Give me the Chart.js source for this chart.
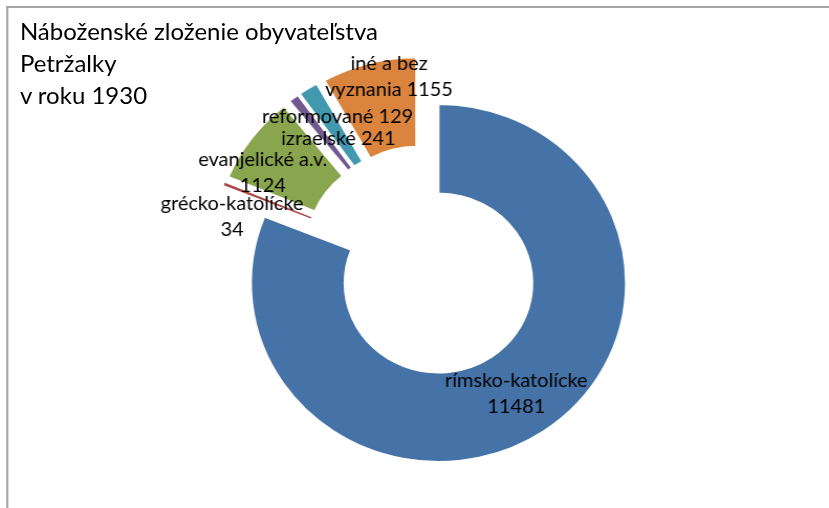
<!DOCTYPE html>
<html lang="sk">
<head>
<meta charset="utf-8">
<title>Náboženské zloženie obyvateľstva Petržalky v roku 1930</title>
<script src="https://cdn.jsdelivr.net/npm/chart.js@4.4.1/dist/chart.umd.min.js"></script>
<style>
  body { margin: 0; background: #fff; overflow: hidden; }
  /* povodny obrazok je vodorovne natiahnuty asi o 4.8 % */
  .obal { position: relative; width: 791px; height: 508px; overflow: hidden;
          transform: scaleX(1.048); transform-origin: 0 0; }
  .ramik { position: absolute; left: 6px; top: 6px; width: 900px; height: 600px;
           border-top: 2px solid #a6a6a6; border-left: 2px solid #a6a6a6; }
  .nadpis { position: absolute; left: 19px; top: 15px; color: #000;
            font: 22.9px/32px Lato, sans-serif; white-space: nowrap; }
  canvas { position: absolute; left: 0; top: 0; }
</style>
</head>
<body>
<div class="obal">
  <div class="ramik"></div>
  <div class="nadpis">Náboženské zloženie obyvateľstva<br>Petržalky<br>v roku 1930</div>
  <canvas id="graf" width="791" height="508"></canvas>
</div>

<script>
const nabozenstva = ['rímsko-katolícke', 'grécko-katolícke', 'evanjelické a.v.', 'reformované', 'izraelské', 'iné a bez vyznania'];
const pocty = [11481, 34, 1124, 129, 241, 1155];
const farby = ['#4572A7', '#AA4643', '#89A54E', '#71588F', '#4198AF', '#DB843D'];

// vysunutie vysekov zo stredu (px), ako "explosion" v Exceli
const vysunutie = [26, 26, 26, 26, 26, 26];
const okraje = [2, 0, 2, 2, 2, 2];

// doladenie polohy popisov (px) a sirka na zalomenie textu
const posunPopisu = [[-1, 0], [-34, 16], [-25, 8], [15, -17], [5, 13], [8, -30]];
const sirkaPopisu = [150, 150, 140, 220, 220, 130];
const riadok = 26;

function zalom(ctx, text, sirka) {
    const slova = text.split(' ');
    const riadky = [];
    let akt = '';
    slova.forEach(s => {
        const skusit = akt ? akt + ' ' + s : s;
        if (akt && ctx.measureText(skusit).width > sirka) {
            riadky.push(akt);
            akt = s;
        } else {
            akt = skusit;
        }
    });
    if (akt) riadky.push(akt);
    return riadky;
}

// posunie kazdy vysek pozdlz jeho osi (ciste posunutie, bez zmeny polomeru)
const vysunutiePlugin = {
    id: 'vysunutie',
    afterDatasetUpdate(chart, args) {
        args.meta.data.forEach((arc, i) => {
            const uhol = (arc.startAngle + arc.endAngle) / 2;
            arc.x += Math.cos(uhol) * vysunutie[i];
            arc.y += Math.sin(uhol) * vysunutie[i];
        });
    }
};

const popisyPlugin = {
    id: 'popisy',
    afterDatasetsDraw(chart) {
        const ctx = chart.ctx;
        const meta = chart.getDatasetMeta(0);
        ctx.save();
        ctx.font = '19px Lato, sans-serif';
        ctx.fillStyle = '#000';
        ctx.textAlign = 'center';
        ctx.textBaseline = 'middle';
        meta.data.forEach((arc, i) => {
            const stredUhol = (arc.startAngle + arc.endAngle) / 2;
            const r = (arc.innerRadius + arc.outerRadius) / 2;
            const x = arc.x + Math.cos(stredUhol) * r + posunPopisu[i][0];
            const riadky = zalom(ctx, nabozenstva[i] + ' ' + pocty[i], sirkaPopisu[i]);
            let y = arc.y + Math.sin(stredUhol) * r + posunPopisu[i][1] - (riadky.length - 1) * riadok / 2;
            riadky.forEach(t => {
                ctx.fillText(t, x, y);
                y += riadok;
            });
        });
        ctx.restore();
    }
};

const ctx = document.getElementById('graf').getContext('2d');

new Chart(ctx, {
    type: 'doughnut',
    data: {
        labels: nabozenstva,
        datasets: [{
            data: pocty,
            backgroundColor: farby,
            borderColor: '#fff',
            borderWidth: okraje
        }]
    },
    options: {
        responsive: false,
        animation: false,
        events: [],
        radius: 179,
        cutout: '50%',
        layout: {
            padding: { left: 16.6, top: 15, right: 0, bottom: 0 }
        },
        plugins: {
            legend: { display: false },
            tooltip: { enabled: false }
        }
    },
    plugins: [vysunutiePlugin, popisyPlugin]
});
</script>
</body>
</html>
